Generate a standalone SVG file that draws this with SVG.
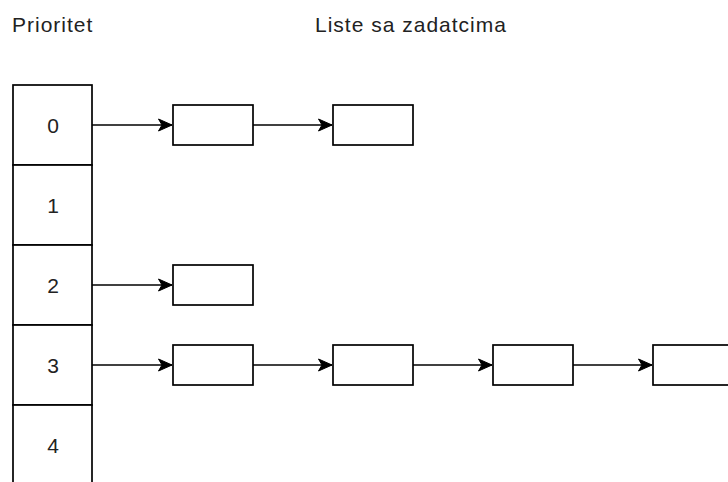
<svg xmlns="http://www.w3.org/2000/svg" width="728" height="482" viewBox="0 0 728 482">
  <style>
    .box { fill: #ffffff; stroke: #000000; stroke-width: 1.7; }
    .edge { fill: none; stroke: #000000; stroke-width: 1.7; }
    .lbl { font-family: "Liberation Sans", Arial, sans-serif; font-size: 21px; letter-spacing: 1px; fill: #222222; }
    .num { font-family: "Liberation Sans", Arial, sans-serif; font-size: 21px; fill: #222222; text-anchor: middle; }
  </style>
  <defs>
    <marker id="arrow" viewBox="0 0 14 14" refX="14" refY="7" markerWidth="14" markerHeight="14" markerUnits="userSpaceOnUse" orient="auto">
      <path d="M0.5,1 L14,7 L0.5,13 L4,7 Z" fill="#000000" stroke="#000000" stroke-width="1"/>
    </marker>
  </defs>
  <rect width="728" height="482" fill="#ffffff"/>

  <!-- headings -->
  <text class="lbl" x="12" y="32">Prioritet</text>
  <text class="lbl" x="315" y="32">Liste sa zadatcima</text>

  <!-- priority column -->
  <g id="p0"><rect class="box" x="13" y="85" width="79" height="80"/><text class="num" x="53" y="132.5">0</text></g>
  <g id="p1"><rect class="box" x="13" y="165" width="79" height="80"/><text class="num" x="53" y="212.5">1</text></g>
  <g id="p2"><rect class="box" x="13" y="245" width="79" height="80"/><text class="num" x="53" y="292.5">2</text></g>
  <g id="p3"><rect class="box" x="13" y="325" width="79" height="80"/><text class="num" x="53" y="372.5">3</text></g>
  <g id="p4"><rect class="box" x="13" y="405" width="79" height="80"/><text class="num" x="53" y="452.5">4</text></g>

  <!-- task lists -->
  <g id="t0a"><rect class="box" x="173" y="105" width="80" height="40"/></g>
  <g id="t0b"><rect class="box" x="333" y="105" width="80" height="40"/></g>
  <g id="t2a"><rect class="box" x="173" y="265" width="80" height="40"/></g>
  <g id="t3a"><rect class="box" x="173" y="345" width="80" height="40"/></g>
  <g id="t3b"><rect class="box" x="333" y="345" width="80" height="40"/></g>
  <g id="t3c"><rect class="box" x="493" y="345" width="80" height="40"/></g>
  <g id="t3d"><rect class="box" x="653" y="345" width="80" height="40"/></g>

  <!-- connectors -->
  <g id="edges">
    <line class="edge" x1="92" y1="125" x2="172" y2="125" marker-end="url(#arrow)"/>
    <line class="edge" x1="253" y1="125" x2="332" y2="125" marker-end="url(#arrow)"/>
    <line class="edge" x1="92" y1="285" x2="172" y2="285" marker-end="url(#arrow)"/>
    <line class="edge" x1="92" y1="365" x2="172" y2="365" marker-end="url(#arrow)"/>
    <line class="edge" x1="253" y1="365" x2="332" y2="365" marker-end="url(#arrow)"/>
    <line class="edge" x1="413" y1="365" x2="492" y2="365" marker-end="url(#arrow)"/>
    <line class="edge" x1="573" y1="365" x2="652" y2="365" marker-end="url(#arrow)"/>
  </g>
</svg>
